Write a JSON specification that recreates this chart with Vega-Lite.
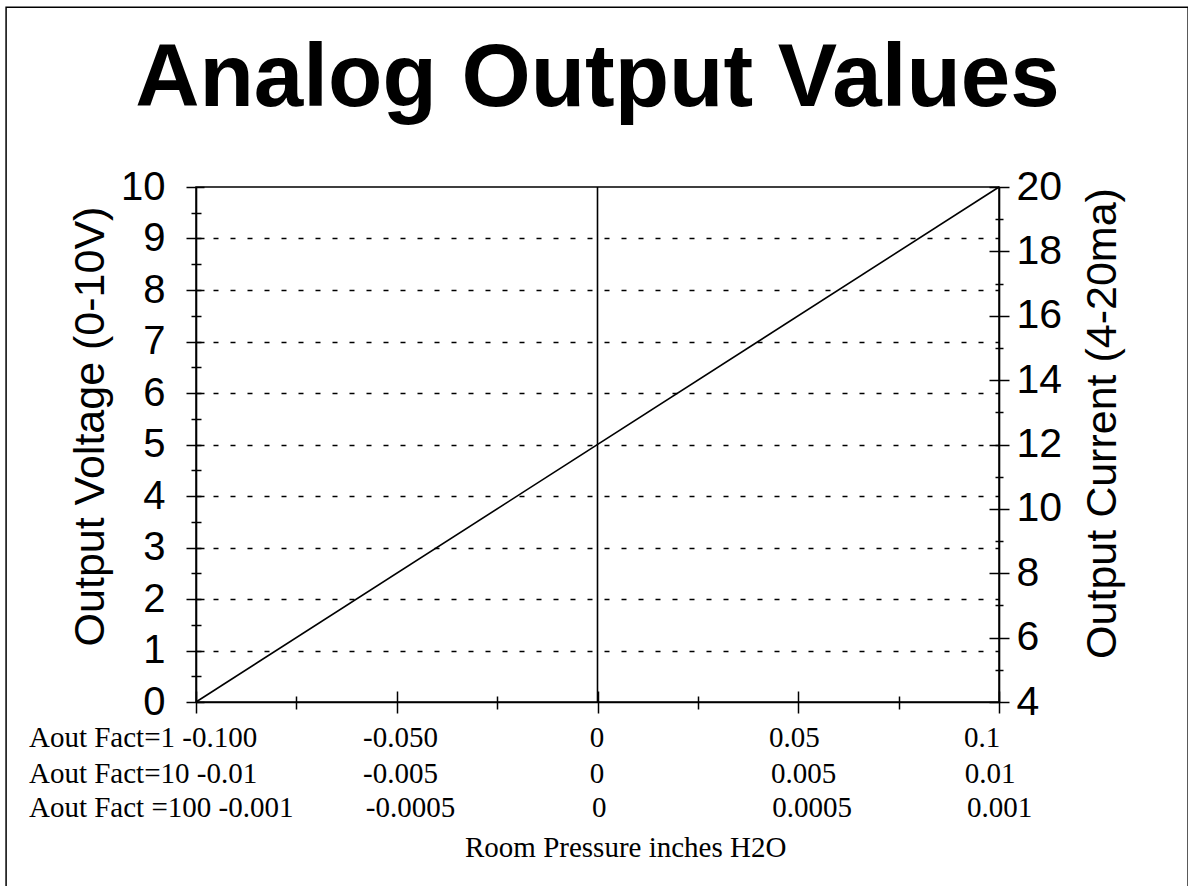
{
  "$schema": "https://vega.github.io/schema/vega-lite/v6.json",
  "width": 803,
  "height": 515,
  "autosize": {"type": "none"},
  "padding": {"left": 196, "top": 187, "right": 189, "bottom": 184},
  "background": "white",
  "config": {
    "view": {"stroke": "black", "strokeWidth": 1.5},
    "axis": {"domainColor": "black", "tickColor": "black", "labelColor": "black", "titleColor": "black", "grid": false}
  },
  "title": {
    "text": "Analog Output Values",
    "font": "Liberation Sans",
    "fontSize": 89,
    "fontWeight": "bold",
    "color": "black",
    "anchor": "middle",
    "frame": "group",
    "offset": -118
  },
  "datasets": {
    "main": [
      {"p": -0.1, "v": 0, "ma": 4},
      {"p": 0.1, "v": 10, "ma": 20}
    ],
    "zero": [{"p": 0}],
    "labels": [
      {"label": "Aout Fact=1 -0.100", "p": -0.1416, "v": -0.87},
      {"label": "-0.050", "p": -0.0584, "v": -0.87},
      {"label": "0", "p": -0.0019, "v": -0.87},
      {"label": "0.05", "p": 0.0427, "v": -0.87},
      {"label": "0.1", "p": 0.0913, "v": -0.87},
      {"label": "Aout Fact=10 -0.01", "p": -0.1416, "v": -1.57},
      {"label": "-0.005", "p": -0.0584, "v": -1.57},
      {"label": "0", "p": -0.0019, "v": -1.57},
      {"label": "0.005", "p": 0.0432, "v": -1.57},
      {"label": "0.01", "p": 0.0915, "v": -1.57},
      {"label": "Aout Fact =100 -0.001", "p": -0.1416, "v": -2.23},
      {"label": "-0.0005", "p": -0.0577, "v": -2.23},
      {"label": "0", "p": -0.0014, "v": -2.23},
      {"label": "0.0005", "p": 0.0435, "v": -2.23},
      {"label": "0.001", "p": 0.092, "v": -2.23},
      {"label": "Room Pressure inches H2O", "p": -0.033, "v": -3.01}
    ]
  },
  "layer": [
    {
      "data": {"name": "main"},
      "mark": {"type": "line", "color": "black", "strokeWidth": 1.6},
      "encoding": {
        "x": {"field": "p", "type": "quantitative", "scale": {"domain": [-0.1, 0.1], "nice": false, "zero": false},
          "axis": {"orient": "bottom", "values": [-0.1, -0.05, 0, 0.05, 0.1], "labels": false, "ticks": false, "tickSize": 0, "domain": true, "domainWidth": 1.6, "title": null}},
        "y": {"field": "v", "type": "quantitative", "scale": {"domain": [0, 10], "nice": false, "zero": false},
          "axis": {"orient": "left", "values": [0, 1, 2, 3, 4, 5, 6, 7, 8, 9, 10], "ticks": false, "tickSize": 0, "domain": true, "domainWidth": 1.6,
            "labelFont": "Liberation Sans", "labelFontSize": 40, "labelPadding": 31, "labelFlush": false, "labelOverlap": false,
            "title": "Output Voltage (0-10V)", "titleFont": "Liberation Sans", "titleFontSize": 43, "titleFontWeight": "normal", "titlePadding": 8, "titleY": 239}}
      }
    },
    {
      "data": {"name": "main"},
      "mark": {"type": "point", "opacity": 0},
      "encoding": {
        "x": {"field": "p", "type": "quantitative", "scale": {"domain": [-0.1, 0.1], "nice": false, "zero": false},
          "axis": {"orient": "bottom", "values": [-0.1, -0.05, 0, 0.05, 0.1], "labels": false, "domain": false, "ticks": true, "tickSize": 22, "tickWidth": 1.5, "offset": -11, "title": null}},
        "y": {"field": "v", "type": "quantitative", "scale": {"domain": [0, 10], "nice": false, "zero": false},
          "axis": {"orient": "left", "values": [0, 1, 2, 3, 4, 5, 6, 7, 8, 9, 10], "labels": false, "domain": false, "ticks": true, "tickSize": 18, "tickWidth": 1.5, "offset": -8, "title": null}}
      }
    },
    {
      "data": {"name": "main"},
      "mark": {"type": "point", "opacity": 0},
      "encoding": {
        "x": {"field": "p", "type": "quantitative", "scale": {"domain": [-0.1, 0.1], "nice": false, "zero": false},
          "axis": {"orient": "bottom", "values": [-0.075, -0.025, 0.025, 0.075], "labels": false, "domain": false, "ticks": true, "tickSize": 13, "tickWidth": 1.5, "offset": -6, "title": null}},
        "y": {"field": "v", "type": "quantitative", "scale": {"domain": [0, 10], "nice": false, "zero": false},
          "axis": {"orient": "left", "values": [0.5, 1.5, 2.5, 3.5, 4.5, 5.5, 6.5, 7.5, 8.5, 9.5], "labels": false, "domain": false, "ticks": true, "tickSize": 10, "tickWidth": 1.5, "offset": -5, "title": null}}
      }
    },
    {
      "data": {"name": "main"},
      "mark": {"type": "point", "opacity": 0},
      "encoding": {
        "x": {"field": "p", "type": "quantitative", "scale": {"domain": [-0.1, 0.1], "nice": false, "zero": false}, "axis": null},
        "y": {"field": "v", "type": "quantitative", "scale": {"domain": [0, 10], "nice": false, "zero": false},
          "axis": {"orient": "left", "values": [1, 2, 3, 4, 5, 6, 7, 8, 9], "labels": false, "domain": false, "ticks": false, "grid": true, "gridColor": "black", "gridWidth": 1.3, "gridDash": [5, 12], "gridOpacity": 1, "title": null}}
      }
    },
    {
      "data": {"name": "main"},
      "mark": {"type": "point", "opacity": 0},
      "encoding": {
        "x": {"field": "p", "type": "quantitative", "scale": {"domain": [-0.1, 0.1], "nice": false, "zero": false}, "axis": null},
        "y": {"field": "ma", "type": "quantitative", "scale": {"domain": [4, 20], "nice": false, "zero": false},
          "axis": {"orient": "right", "values": [4, 6, 8, 10, 12, 14, 16, 18, 20], "ticks": false, "tickSize": 0, "domain": true, "domainWidth": 1.6,
            "labelFont": "Liberation Sans", "labelFontSize": 41, "labelPadding": 17, "labelFlush": false, "labelOverlap": false,
            "title": "Output Current (4-20ma)", "titleFont": "Liberation Sans", "titleFontSize": 43, "titleFontWeight": "normal", "titleAngle": 270, "titleBaseline": "top", "titlePadding": 20, "titleY": 236}}
      }
    },
    {
      "data": {"name": "main"},
      "mark": {"type": "point", "opacity": 0},
      "encoding": {
        "x": {"field": "p", "type": "quantitative", "scale": {"domain": [-0.1, 0.1], "nice": false, "zero": false}, "axis": null},
        "y": {"field": "ma", "type": "quantitative", "scale": {"domain": [4, 20], "nice": false, "zero": false},
          "axis": {"orient": "right", "values": [4, 6, 8, 10, 12, 14, 16, 18, 20], "labels": false, "domain": false, "ticks": true, "tickSize": 20, "tickWidth": 1.5, "offset": -10, "title": null}}
      }
    },
    {
      "data": {"name": "main"},
      "mark": {"type": "point", "opacity": 0},
      "encoding": {
        "x": {"field": "p", "type": "quantitative", "scale": {"domain": [-0.1, 0.1], "nice": false, "zero": false}, "axis": null},
        "y": {"field": "ma", "type": "quantitative", "scale": {"domain": [4, 20], "nice": false, "zero": false},
          "axis": {"orient": "right", "values": [5, 7, 9, 11, 13, 15, 17, 19], "labels": false, "domain": false, "ticks": true, "tickSize": 8, "tickWidth": 1.5, "offset": -4, "title": null}}
      }
    },
    {
      "data": {"name": "zero"},
      "mark": {"type": "rule", "color": "black", "strokeWidth": 1.6},
      "encoding": {
        "x": {"field": "p", "type": "quantitative", "scale": {"domain": [-0.1, 0.1], "nice": false, "zero": false}, "axis": null}
      }
    },
    {
      "data": {"name": "labels"},
      "mark": {"type": "text", "align": "left", "baseline": "alphabetic", "font": "Liberation Serif", "fontSize": 29, "color": "black"},
      "encoding": {
        "x": {"field": "p", "type": "quantitative", "scale": {"domain": [-0.1, 0.1], "nice": false, "zero": false}, "axis": null},
        "y": {"field": "v", "type": "quantitative", "scale": {"domain": [0, 10], "nice": false, "zero": false}, "axis": null},
        "text": {"field": "label", "type": "nominal"}
      }
    },
    {
      "data": {"values": [{}]},
      "mark": {"type": "rect", "fillOpacity": 0, "stroke": "black", "strokeWidth": 1.5},
      "encoding": {
        "x": {"datum": -0.1473, "type": "quantitative", "scale": {"domain": [-0.1, 0.1], "nice": false, "zero": false}, "axis": null},
        "x2": {"datum": 0.1471},
        "y": {"datum": 13.49, "type": "quantitative", "scale": {"domain": [0, 10], "nice": false, "zero": false}, "axis": null},
        "y2": {"datum": -3.8}
      }
    }
  ],
  "resolve": {
    "scale": {"y": "independent"},
    "axis": {"x": "independent", "y": "independent"}
  }
}
